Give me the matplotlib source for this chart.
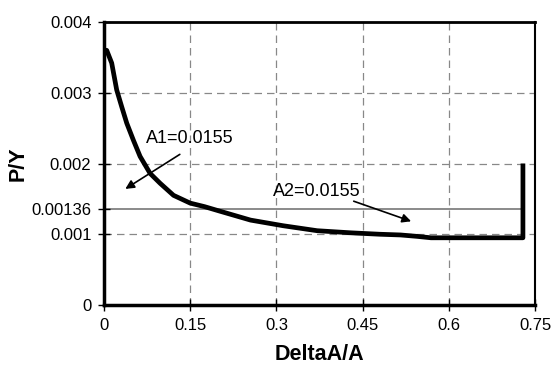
import matplotlib.pyplot as plt

plt.rcParams['font.family'] = ['Liberation Sans', 'DejaVu Sans']

# curve
x = [0.002, 0.0047, 0.0134, 0.0221, 0.0309, 0.0396, 0.0511, 0.0628, 0.0802, 0.0977, 0.121,
     0.150, 0.175, 0.200, 0.255, 0.312, 0.371, 0.430, 0.480, 0.516, 0.545, 0.569, 0.62, 0.68,
     0.729, 0.729]
y = [0.0036, 0.00360, 0.00342, 0.00304, 0.00280, 0.00257, 0.00233, 0.00210, 0.00186, 0.00172,
     0.00155, 0.00144, 0.00139, 0.00133, 0.00120, 0.00112, 0.00105, 0.00102, 0.00100, 0.00099,
     0.00097, 0.00095, 0.00095, 0.00095, 0.00095, 0.002]
level = 0.00136
level_x = [0, 0.73]

xticks = [0, 0.15, 0.3, 0.45, 0.6, 0.75]
xtl = ['0', '0.15', '0.3', '0.45', '0.6', '0.75']
yticks = [0, 0.001, 0.00136, 0.002, 0.003, 0.004]
ytl = ['0', '0.001', '0.00136', '0.002', '0.003', '0.004']

fig = plt.figure(figsize=(5.52, 3.69), dpi=100)
ax = fig.add_axes([104/552, 1 - 305/369, (535-104)/552, (305-22)/369])

for v in xticks[1:-1]:
    ax.axvline(v, color='#888888', ls=(0, (6, 4)), lw=0.9, zorder=0)
for v in [0.001, 0.002, 0.003]:
    ax.axhline(v, color='#888888', ls=(0, (6, 4)), lw=0.9, zorder=0)

ax.plot(level_x, [level, level], color='#777777', lw=1.2, zorder=1)
ax.plot(x, y, color='black', lw=3.4, solid_capstyle='butt', solid_joinstyle='round', zorder=2)

ax.annotate('', xy=(0.033, 0.00162), xytext=(0.136, 0.00215),
            arrowprops=dict(arrowstyle='-|>', color='black', lw=1.2, mutation_scale=13))
ax.text(0.15, 0.00236, 'A1=0.0155', fontsize=13, ha='center', va='center')
ax.annotate('', xy=(0.539, 0.00117), xytext=(0.43, 0.00148),
            arrowprops=dict(arrowstyle='-|>', color='black', lw=1.2, mutation_scale=13))
ax.text(0.371, 0.0016, 'A2=0.0155', fontsize=13, ha='center', va='center')

ax.set_xlim(0, 0.75)
ax.set_ylim(0, 0.004)
ax.set_xticks(xticks)
ax.set_xticklabels(xtl, fontsize=12)
ax.set_yticks(yticks)
ax.set_yticklabels(ytl, fontsize=12)
ax.tick_params(direction='inout', length=8, width=1, pad=5)
ax.spines['left'].set_linewidth(2.5)
ax.spines['bottom'].set_linewidth(2.5)
ax.spines['top'].set_linewidth(2)
ax.spines['right'].set_linewidth(1.5)

ax.set_xlabel('DeltaA/A', fontsize=15.5, fontweight='bold', labelpad=8)
ax.set_ylabel('P/Y', fontsize=15.5, fontweight='bold', labelpad=2)

plt.savefig('out.png', dpi=100)
